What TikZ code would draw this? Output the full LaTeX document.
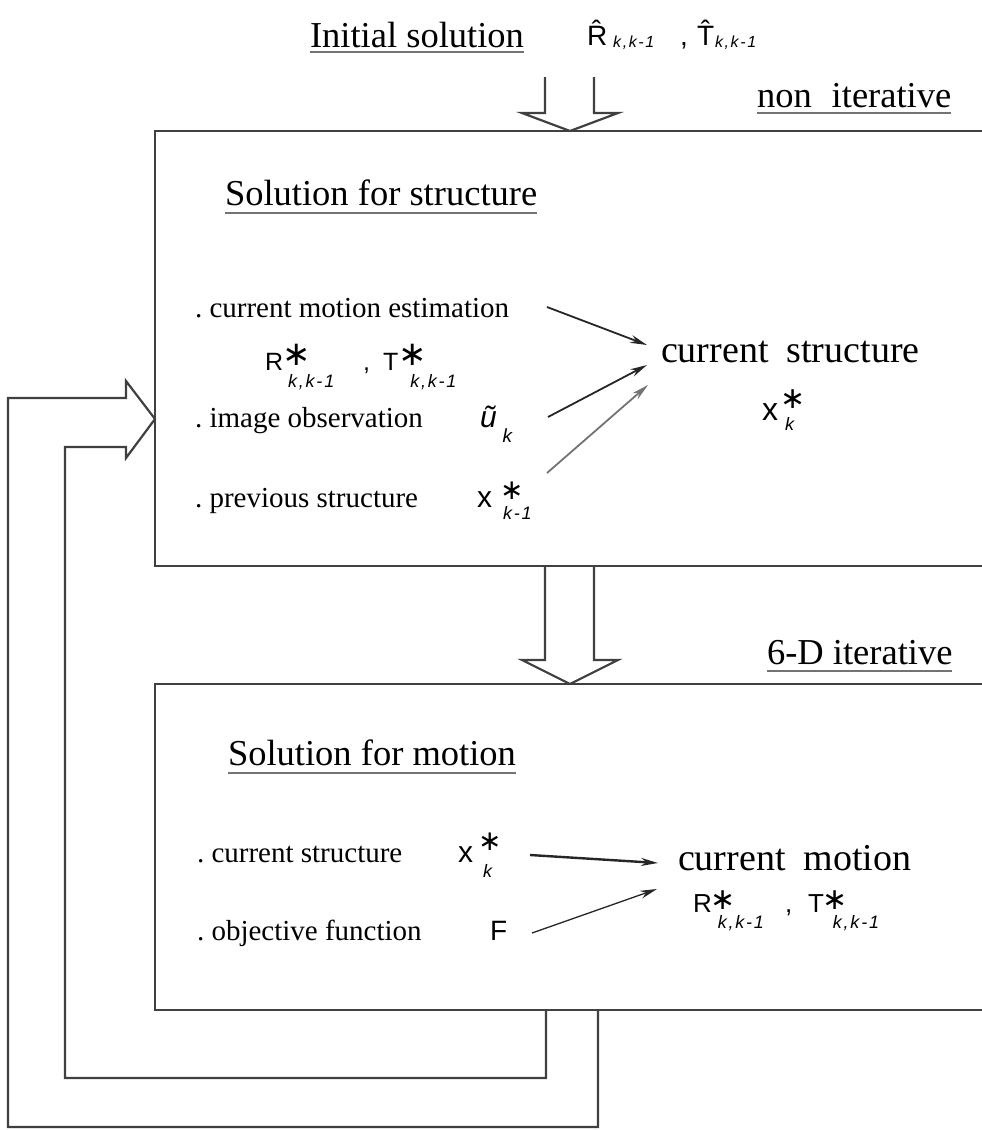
\documentclass[tikz,border=0pt]{standalone}
\usepackage{fontspec}
\setmainfont{Liberation Serif}
\newfontfamily\symf{Liberation Sans}
\newfontfamily\subf[LetterSpace=10]{Liberation Sans}
\newfontfamily\starf{DejaVu Sans}
\usetikzlibrary{arrows.meta}
\newcommand\fs[1]{\fontsize{#1}{#1}\selectfont}
\newcommand\st[1]{{\starf\fs{#1}∗}}
% #1 base, #2 star kern, #3 star raise, #4 star size, #5 sub text, #6 sub drop, #7 sub kern
\newcommand\stsub[7]{#1\rlap{\kern#2\raisebox{#3}{\st{#4}}}\raisebox{-#6}{\kern#7{\subf\itshape\fs{18}#5}}}
\tikzset{
  txt/.style={inner sep=0pt, outer sep=0pt, anchor=base west},
  head/.style={txt, font=\fs{36.5}},
  item/.style={txt, font=\fs{29}},
  sym/.style={txt, font=\symf\fs{#1}},
  frame/.style={line width=2.2pt, draw=black!75, line join=miter},
  hollow/.style={line width=2.2pt, draw=black!75, line join=miter},
  ul/.style={line width=2.6pt, draw=black!55},
  thin/.style={line width=1.8pt, draw=black!85, -{Stealth[length=17pt,width=8pt]}},
}
\begin{document}
\begin{tikzpicture}[x=1pt,y=-1pt]
\useasboundingbox (0,0) rectangle (982,1130);
% boxes
\draw[frame] (982,131) -- (155,131) -- (155,566) -- (982,566);
\draw[frame] (982,684) -- (155,684) -- (155,1010) -- (982,1010);
% hollow arrows
\draw[hollow] (545,77) -- (545,113) -- (522,113) -- (570,131) -- (618,113) -- (594,113) -- (594,77);
\draw[hollow] (545,566) -- (545,660) -- (522,660) -- (570,684) -- (618,660) -- (594,660) -- (594,566);
\draw[hollow] (546,1010) -- (546,1078) -- (65,1078) -- (65,447) -- (126,447) -- (126,458) -- (155,419) -- (126,381) -- (126,398) -- (8,398) -- (8,1127) -- (598,1127) -- (598,1010);
% top labels
\node[head] (init) at (310,47) {Initial solution};
\draw[ul] ([yshift=-5pt]init.base west) -- ([yshift=-5pt]init.base east);
\node[sym=28] (rt0R) at (587,45) {\^R\raisebox{-2pt}{\kern6pt{\subf\itshape\fs{16}k,k-1}}};
\node[sym=28] (rt0c) at (680,45) {,};
\node[sym=28] (rt0T) at (697,45) {\^T\raisebox{-2pt}{\kern1pt{\subf\itshape\fs{16}k,k-1}}};
\node[head] (noniter) at (757,107) {non\hspace{20pt}iterative};
\draw[ul] ([yshift=-6pt]noniter.base west) -- ([yshift=-6pt]noniter.base east);
% structure box
\node[head] (solS) at (225,205) {Solution for structure};
\draw[ul] ([yshift=-8pt]solS.base west) -- ([yshift=-8pt]solS.base east);
\node[item] (i1) at (195,317) {.\ current motion estimation};
\node[sym=25] (rt1R) at (265,370) {\stsub{R}{-1pt}{5pt}{34}{k,k-1}{17pt}{5pt}};
\node[sym=25] (rt1c) at (363,370) {,};
\node[sym=25] (rt1T) at (383,370) {\stsub{T}{0pt}{5pt}{34}{k,k-1}{17pt}{12pt}};
\node[item] (i2) at (195,427) {.\ image observation};
\node[sym=30] (uk) at (480,427) {\itshape\~u\raisebox{-15pt}{\kern6pt{\subf\itshape\fs{19}k}}};
\node[item] (i3) at (195,507) {.\ previous structure};
\node[sym=30] (xk1) at (477,507) {\stsub{x}{8pt}{8pt}{28}{k-1}{12pt}{11pt}};
\node[txt, font=\fs{38}] (cs) at (661,362) {current\hspace{18pt}structure};
\node[sym=32] (xk) at (762,420) {\stsub{x}{2pt}{12pt}{30}{k}{10pt}{7pt}};
% motion box
\node[head] (iter) at (767,664) {6-D iterative};
\draw[ul] ([yshift=-7pt]iter.base west) -- ([yshift=-7pt]iter.base east);
\node[head] (solM) at (228,765) {Solution for motion};
\draw[ul] ([yshift=-8pt]solM.base west) -- ([yshift=-8pt]solM.base east);
\node[item] (j1) at (197,862) {.\ current structure};
\node[item] (j2) at (197,940) {.\ objective function};
\node[sym=30] (xk2) at (458,862) {\stsub{x}{5pt}{12pt}{28}{k}{15pt}{10pt}};
\node[sym=28] (F) at (490,940) {F};
\node[txt, font=\fs{38}] (cm) at (678,870) {current\hspace{18pt}motion};
\node[sym=26] (rt2R) at (693,912) {\stsub{R}{-1pt}{3pt}{30}{k,k-1}{16pt}{6pt}};
\node[sym=26] (rt2c) at (785,912) {,};
\node[sym=26] (rt2T) at (808,912) {\stsub{T}{-1pt}{3pt}{30}{k,k-1}{16pt}{9pt}};
% thin arrows
\coordinate (a1s) at (547,307); \coordinate (a1e) at (647,345);
\coordinate (a2s) at (548,417); \coordinate (a2e) at (647,365);
\coordinate (a3s) at (547,473); \coordinate (a3e) at (648,385);
\coordinate (b1s) at (530,855); \coordinate (b1e) at (658,863);
\coordinate (b2s) at (532,933); \coordinate (b2e) at (657,889);
\draw[thin] (a1s) -- (a1e);
\draw[thin] (a2s) -- (a2e);
\draw[thin, draw=black!55] (a3s) -- (a3e);
\draw[thin, line width=2.4pt] (b1s) -- (b1e);
\draw[thin, line width=1.3pt] (b2s) -- (b2e);
\end{tikzpicture}
\end{document}
